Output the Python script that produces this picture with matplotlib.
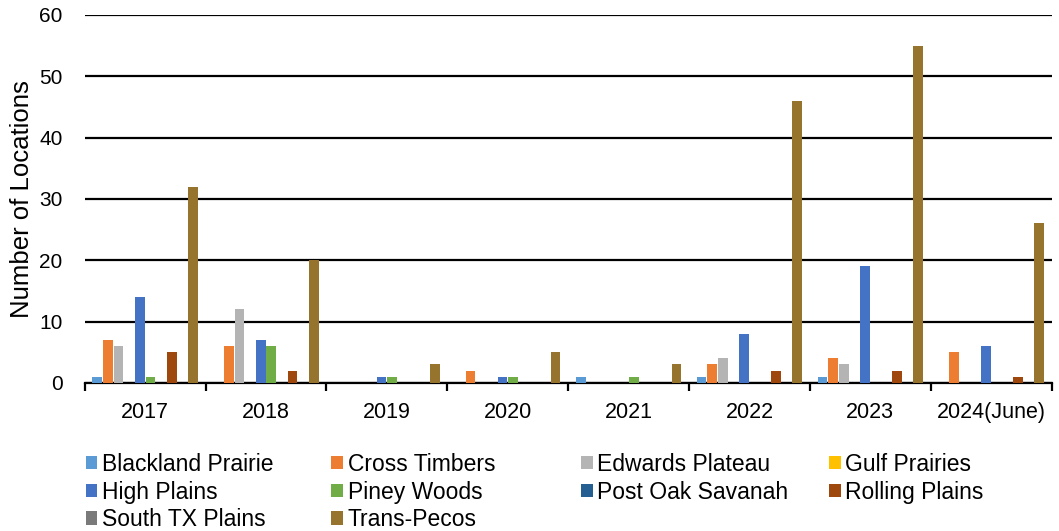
import numpy as np
import matplotlib
matplotlib.use("Agg")
import matplotlib.pyplot as plt
from matplotlib.patches import Patch

plt.rcParams['font.family'] = ['Liberation Sans', 'DejaVu Sans']

years = ["2017", "2018", "2019", "2020", "2021", "2022", "2023", "2024(June)"]

regions = ["Blackland Prairie", "Cross Timbers", "Edwards Plateau", "Gulf Prairies",
           "High Plains", "Piney Woods", "Post Oak Savanah", "Rolling Plains",
           "South TX Plains", "Trans-Pecos"]

blackland = [1, 0, 0, 0, 1, 1, 1, 0]
cross_timbers = [7, 6, 0, 2, 0, 3, 4, 5]
edwards = [6, 12, 0, 0, 0, 4, 3, 0]
gulf = [0, 0, 0, 0, 0, 0, 0, 0]
high_plains = [14, 7, 1, 1, 0, 8, 19, 6]
piney = [1, 6, 1, 1, 1, 0, 0, 0]
post_oak = [0, 0, 0, 0, 0, 0, 0, 0]
rolling = [5, 2, 0, 0, 0, 2, 2, 1]
south_tx = [0, 0, 0, 0, 0, 0, 0, 0]
trans_pecos = [32, 20, 3, 5, 3, 46, 55, 26]

series = [blackland, cross_timbers, edwards, gulf, high_plains, piney,
          post_oak, rolling, south_tx, trans_pecos]
colors = ["#5B9BD5", "#ED7D31", "#B4B4B4", "#FFC000", "#4472C4", "#70AD47",
          "#255E91", "#9E480E", "#7A7A7A", "#96742E"]

fig = plt.figure(figsize=(10.59, 5.31), dpi=100)
ax = fig.add_axes([0.080, 0.279, 0.913, 0.693])

x = np.arange(len(years))
w = 0.088
for i, (vals, c) in enumerate(zip(series, colors)):
    offs = (i - 4.5) * w
    ax.bar(x + offs, vals, width=w * 0.92, color=c, zorder=3)

ax.set_xlim(-0.5, len(years) - 0.5)
ax.set_ylim(0, 60)
ax.set_yticks(range(0, 61, 10))
ax.yaxis.grid(True, color="black", linewidth=1.6, zorder=0)
ax.tick_params(axis='y', length=0, labelsize=15, pad=16)

ax.set_xticks(x)
ax.set_xticklabels(years, fontsize=15.5)
ax.set_xticks(np.arange(-0.5, len(years)), minor=True)
ax.tick_params(axis='x', which='major', length=0, pad=14)
ax.tick_params(axis='x', which='minor', length=6, width=1.6, direction='out')

for s in ["top", "right", "left"]:
    ax.spines[s].set_visible(False)
ax.spines["bottom"].set_linewidth(1.6)

ax.set_ylabel("Number of Locations", fontsize=18.5, labelpad=4)

# legend laid out like Excel: fixed-width columns
cols = [[0, 4, 8], [1, 5, 9], [2, 6], [3, 7]]
col_x = [0.081, 0.313, 0.549, 0.783]
for idx, cx in zip(cols, col_x):
    handles = [Patch(facecolor=colors[k], edgecolor='none') for k in idx]
    labels = [regions[k] for k in idx]
    fig.legend(handles, labels, loc="upper left", bbox_to_anchor=(cx, 0.147),
               frameon=False, fontsize=16.5, handlelength=0.5, handleheight=0.5,
               handletextpad=0.2, labelspacing=0.2, borderpad=0, borderaxespad=0)

fig.savefig("out.png", dpi=100)
